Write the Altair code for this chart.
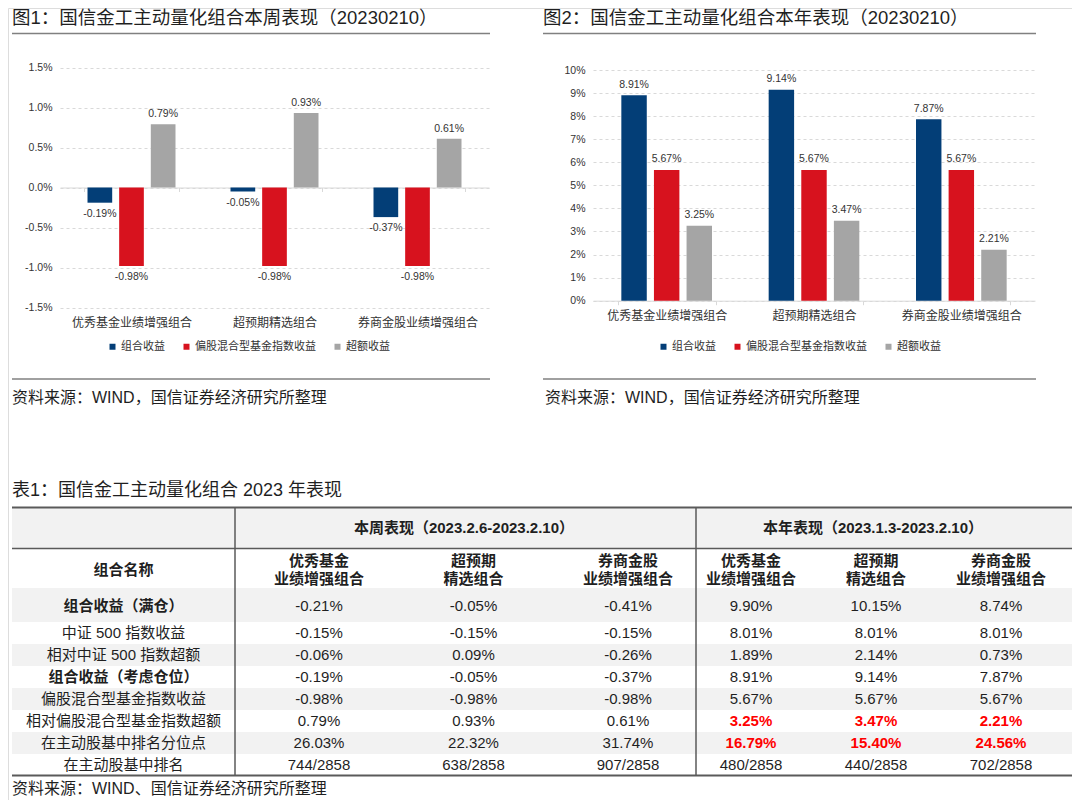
import altair as alt
import pandas as pd

W, H = 1064, 792
FONT = "Liberation Sans, Noto Sans CJK SC"
TXT = "#1f1f1f"
AX_TXT = "#333333"
GRID = "#D9D9D9"
LINE = "#808080"
TBL_LINE = "#5A5A5A"
SHADE = "#F2F2F2"
RED = "#FF0000"

# ---------------- data ----------------
portfolios = ["优秀基金业绩增强组合", "超预期精选组合", "券商金股业绩增强组合"]
series = ["组合收益", "偏股混合型基金指数收益", "超额收益"]
series_colors = ["#033E77", "#D7121E", "#A5A5A5"]

week_portfolio = [-0.19, -0.05, -0.37]
week_index = [-0.98, -0.98, -0.98]
week_excess = [0.79, 0.93, 0.61]

year_portfolio = [8.91, 9.14, 7.87]
year_index = [5.67, 5.67, 5.67]
year_excess = [3.25, 3.47, 2.21]

week_ticks = [-1.5, -1.0, -0.5, 0.0, 0.5, 1.0, 1.5]
year_ticks = [0, 1, 2, 3, 4, 5, 6, 7, 8, 9, 10]

rows = ["组合收益（满仓）", "中证 500 指数收益", "相对中证 500 指数超额", "组合收益（考虑仓位）",
        "偏股混合型基金指数收益", "相对偏股混合型基金指数超额", "在主动股基中排名分位点", "在主动股基中排名"]
col_headers = ["优秀基金\n业绩增强组合", "超预期\n精选组合", "券商金股\n业绩增强组合"]
groups = ["本周表现（2023.2.6-2023.2.10）", "本年表现（2023.1.3-2023.2.10）"]

wk_excellent = ["-0.21%", "-0.15%", "-0.06%", "-0.19%", "-0.98%", "0.79%", "26.03%", "744/2858"]
wk_expect = ["-0.05%", "-0.15%", "0.09%", "-0.05%", "-0.98%", "0.93%", "22.32%", "638/2858"]
wk_broker = ["-0.41%", "-0.15%", "-0.26%", "-0.37%", "-0.98%", "0.61%", "31.74%", "907/2858"]
yr_excellent = ["9.90%", "8.01%", "1.89%", "8.91%", "5.67%", "3.25%", "16.79%", "480/2858"]
yr_expect = ["10.15%", "8.01%", "2.14%", "9.14%", "5.67%", "3.47%", "15.40%", "440/2858"]
yr_broker = ["8.74%", "8.01%", "0.73%", "7.87%", "5.67%", "2.21%", "24.56%", "702/2858"]

title1 = "图1：国信金工主动量化组合本周表现（20230210）"
title2 = "图2：国信金工主动量化组合本年表现（20230210）"
title3 = "表1：国信金工主动量化组合 2023 年表现"
source_chart = "资料来源：WIND，国信证券经济研究所整理"
source_table = "资料来源：WIND、国信证券经济研究所整理"


def long_df(lists):
    recs = []
    for s, vals in zip(series, lists):
        for p, v in zip(portfolios, vals):
            recs.append({"组合": p, "系列": s, "收益": v})
    return pd.DataFrame(recs)


week_df = long_df([week_portfolio, week_index, week_excess])
year_df = long_df([year_portfolio, year_index, year_excess])


def bar_chart(df, ydom, yrng, xrng, ticks, label_expr, label_pad, legend_x, legend_y, dy_up, dy_down):
    zero_px = yrng[0] + (0 - ydom[0]) / (ydom[1] - ydom[0]) * (yrng[1] - yrng[0])
    xenc = alt.X("组合:N", sort=portfolios,
                 scale=alt.Scale(domain=portfolios, range=xrng, paddingInner=0.336, paddingOuter=0.168),
                 axis=alt.Axis(orient="bottom", offset=zero_px - H, title=None, labelAngle=0,
                               labelFont=FONT, labelFontSize=12, labelColor=AX_TXT,
                               domainColor=GRID, domainWidth=1, tickColor=GRID, tickSize=4,
                               tickBand="extent", labelPadding=label_pad, grid=False))
    xo = alt.XOffset("系列:N", sort=series,
                     scale=alt.Scale(domain=series, paddingInner=0.22, paddingOuter=0.11))
    yenc = alt.Y("收益:Q", scale=alt.Scale(domain=ydom, range=yrng, nice=False, zero=True),
                 axis=alt.Axis(orient="left", offset=-xrng[0], values=ticks, labelExpr=label_expr,
                               title=None, domain=False, ticks=False, grid=True, gridColor=GRID,
                               gridDash=[3, 3], gridWidth=1, labelFont=FONT, labelFontSize=10.5,
                               labelColor=AX_TXT, labelPadding=8))
    col = alt.Color("系列:N", sort=series, scale=alt.Scale(domain=series, range=series_colors),
                    legend=alt.Legend(orient="none", legendX=legend_x, legendY=legend_y,
                                      direction="horizontal", title=None, symbolType="square",
                                      symbolSize=36, symbolStrokeWidth=0, labelFont=FONT,
                                      labelFontSize=11, labelColor=AX_TXT, columnPadding=16,
                                      labelOffset=3, padding=0))
    base = alt.Chart(df)
    bars = base.mark_bar().encode(x=xenc, xOffset=xo, y=yenc, color=col)
    lab = base.transform_calculate(
        标签="replace(format(datum['收益'], '.2f'), '\u2212', '-') + '%'")
    up = lab.transform_filter("datum['收益'] >= 0").mark_text(
        dy=dy_up, font=FONT, fontSize=10.5, color=AX_TXT).encode(x=xenc, xOffset=xo, y=yenc, text="标签:N")
    down = lab.transform_filter("datum['收益'] < 0").mark_text(
        dy=dy_down, font=FONT, fontSize=10.5, color=AX_TXT).encode(x=xenc, xOffset=xo, y=yenc, text="标签:N")
    return alt.layer(bars, up, down)


chart1 = bar_chart(week_df, [-1.5, 1.5], [299.5, 59.5], [52, 481], week_ticks,
                   "replace(format(datum.value, '.1f'), '\u2212', '-') + '%'", 126, 99, 333, -10, 11)
chart2 = bar_chart(year_df, [0, 10], [292.7, 62], [585, 1027], year_ticks,
                   "datum.value + '%'", 6, 650, 333, -10.5, 11)

# ---------------- table ----------------
recs = []
for g, cols in ((groups[0], [wk_excellent, wk_expect, wk_broker]),
                (groups[1], [yr_excellent, yr_expect, yr_broker])):
    for p, vals in zip(portfolios, cols):
        for r, v in zip(rows, vals):
            recs.append({"分组": g, "组合": p, "行": r, "数值": v})
tdf = pd.DataFrame(recs)

name_df = pd.DataFrame({"行": rows, "列": ["组合名称"] * len(rows)})
head_cols = pd.DataFrame({"组合": portfolios, "表头": col_headers, "表头行": ["名称"] * 3})
head_name = pd.DataFrame({"列": ["组合名称"], "表头": ["组合名称"], "表头行": ["名称"]})
head_groups = pd.DataFrame({"分组": groups, "表头行": ["分组"] * 2})

NAME_X = [4, 227]
WEEK_X = [233.75, 697.25]
YEAR_X = [680.5, 1055.5]
GROUP_X = [251.5, 1069.5]
BODY_Y = [614, 768]
ROW1_Y = [580, 614]
HEAD_Y = [500, 580]


def bx(field, dom, rng):
    return alt.X(f"{field}:N", sort=dom, axis=None,
                 scale=alt.Scale(type="band", domain=dom, range=rng, paddingInner=0, paddingOuter=0))


def by(field, dom, rng):
    return alt.Y(f"{field}:N", sort=dom, axis=None,
                 scale=alt.Scale(type="band", domain=dom, range=rng, paddingInner=0, paddingOuter=0))


def ttext(df, x, y, text, bold=False, color=TXT, dy=0, multiline=False):
    kw = dict(font=FONT, fontSize=15, color=color, fontWeight="bold" if bold else "normal", dy=dy)
    if multiline:
        kw.update(lineBreak="\n", lineHeight=18)
    return alt.Chart(df).mark_text(**kw).encode(x=x, y=y, text=f"{text}:N")


def one_of(field, vals):
    return alt.FieldOneOfPredicate(field=field, oneOf=list(vals))


table_layers = []
# backgrounds
table_layers.append(
    alt.Chart(pd.DataFrame({"行": rows})).transform_filter(one_of("行", [rows[2], rows[4], rows[6]]))
    .mark_rect(color=SHADE).encode(y=by("行", rows[1:], BODY_Y), x=alt.value(4), x2=alt.value(W)))
table_layers.append(
    alt.Chart(pd.DataFrame({"行": rows[:1]})).mark_rect(color=SHADE)
    .encode(y=by("行", rows[:1], ROW1_Y), x=alt.value(4), x2=alt.value(W)))
table_layers.append(
    alt.Chart(pd.DataFrame({"表头行": ["分组"]})).mark_rect(color=SHADE)
    .encode(y=by("表头行", ["分组", "名称"], HEAD_Y), x=alt.value(4), x2=alt.value(W)))

wk = tdf[tdf["分组"] == groups[0]]
yr = tdf[tdf["分组"] == groups[1]]
body_rows = rows[1:]
red_rows = [rows[5], rows[6]]

# week values
table_layers.append(ttext(wk[wk["行"] != rows[0]], bx("组合", portfolios, WEEK_X), by("行", body_rows, BODY_Y), "数值"))
table_layers.append(ttext(wk[wk["行"] == rows[0]], bx("组合", portfolios, WEEK_X), by("行", rows[:1], ROW1_Y), "数值", dy=1))
# year values
table_layers.append(ttext(yr[(yr["行"] != rows[0]) & (~yr["行"].isin(red_rows))],
                          bx("组合", portfolios, YEAR_X), by("行", body_rows, BODY_Y), "数值"))
table_layers.append(ttext(yr[yr["行"].isin(red_rows)], bx("组合", portfolios, YEAR_X),
                          by("行", body_rows, BODY_Y), "数值", bold=True, color=RED))
table_layers.append(ttext(yr[yr["行"] == rows[0]], bx("组合", portfolios, YEAR_X), by("行", rows[:1], ROW1_Y), "数值", dy=1))
# row names
nm_plain = name_df[~name_df["行"].isin([rows[0], rows[3]])]
table_layers.append(ttext(nm_plain, bx("列", ["组合名称"], NAME_X), by("行", body_rows, BODY_Y), "行"))
table_layers.append(ttext(name_df[name_df["行"] == rows[3]], bx("列", ["组合名称"], NAME_X),
                          by("行", body_rows, BODY_Y), "行", bold=True))
table_layers.append(ttext(name_df[name_df["行"] == rows[0]], bx("列", ["组合名称"], NAME_X),
                          by("行", rows[:1], ROW1_Y), "行", bold=True, dy=1))
# headers
table_layers.append(ttext(head_groups, bx("分组", groups, GROUP_X), by("表头行", ["分组", "名称"], HEAD_Y),
                          "分组", bold=True))
table_layers.append(ttext(head_name, bx("列", ["组合名称"], NAME_X), by("表头行", ["分组", "名称"], HEAD_Y),
                          "表头", bold=True, dy=2))
table_layers.append(ttext(head_cols, bx("组合", portfolios, WEEK_X), by("表头行", ["分组", "名称"], HEAD_Y),
                          "表头", bold=True, dy=-7, multiline=True))
table_layers.append(ttext(head_cols, bx("组合", portfolios, YEAR_X), by("表头行", ["分组", "名称"], HEAD_Y),
                          "表头", bold=True, dy=-7, multiline=True))


# ---------------- decorations ----------------
def deco_text(s, x, y, size):
    return alt.Chart(pd.DataFrame({"文字": [s]})).mark_text(
        align="left", baseline="middle", font=FONT, fontSize=size, color=TXT
    ).encode(x=alt.value(x), y=alt.value(y), text="文字:N")


def deco_rule(x, x2, y, y2, color, width):
    return alt.Chart(pd.DataFrame({"k": [0]})).mark_rule(color=color, strokeWidth=width).encode(
        x=alt.value(x), x2=alt.value(x2), y=alt.value(y), y2=alt.value(y2))


decos = [
    deco_text(title1, 4, 10, 18.5),
    deco_text(title2, 535, 10, 18.5),
    deco_rule(4, 482, 25.5, 25.5, LINE, 1.5),
    deco_rule(535, 1028, 25.5, 25.5, LINE, 1.5),
    deco_rule(4, 482, 371, 371, LINE, 1.5),
    deco_rule(535, 1028, 371, 371, LINE, 1.5),
    deco_text(source_chart, 4, 390, 16),
    deco_text(source_chart, 537, 390, 16),
    deco_text(title3, 4, 483, 18),
    deco_rule(4, W, 499.5, 499.5, TBL_LINE, 2),
    deco_rule(4, W, 540.5, 540.5, TBL_LINE, 1.5),
    deco_rule(4, W, 767.5, 767.5, TBL_LINE, 2),
    deco_rule(227, 227, 500, 768, TBL_LINE, 1.5),
    deco_rule(688, 688, 500, 768, TBL_LINE, 1.5),
    deco_text(source_table, 4, 781, 16),
]

chart = alt.layer(
    *table_layers[:3], chart1, chart2, *table_layers[3:], *decos
).resolve_scale(
    x="independent", y="independent", xOffset="independent", color="independent"
).properties(
    width=W, height=H, autosize=alt.AutoSizeParams(type="none"), padding=0
).configure_view(stroke=None).configure(font=FONT)

chart.save("out.html", embed_options={"renderer": "svg", "actions": False})
